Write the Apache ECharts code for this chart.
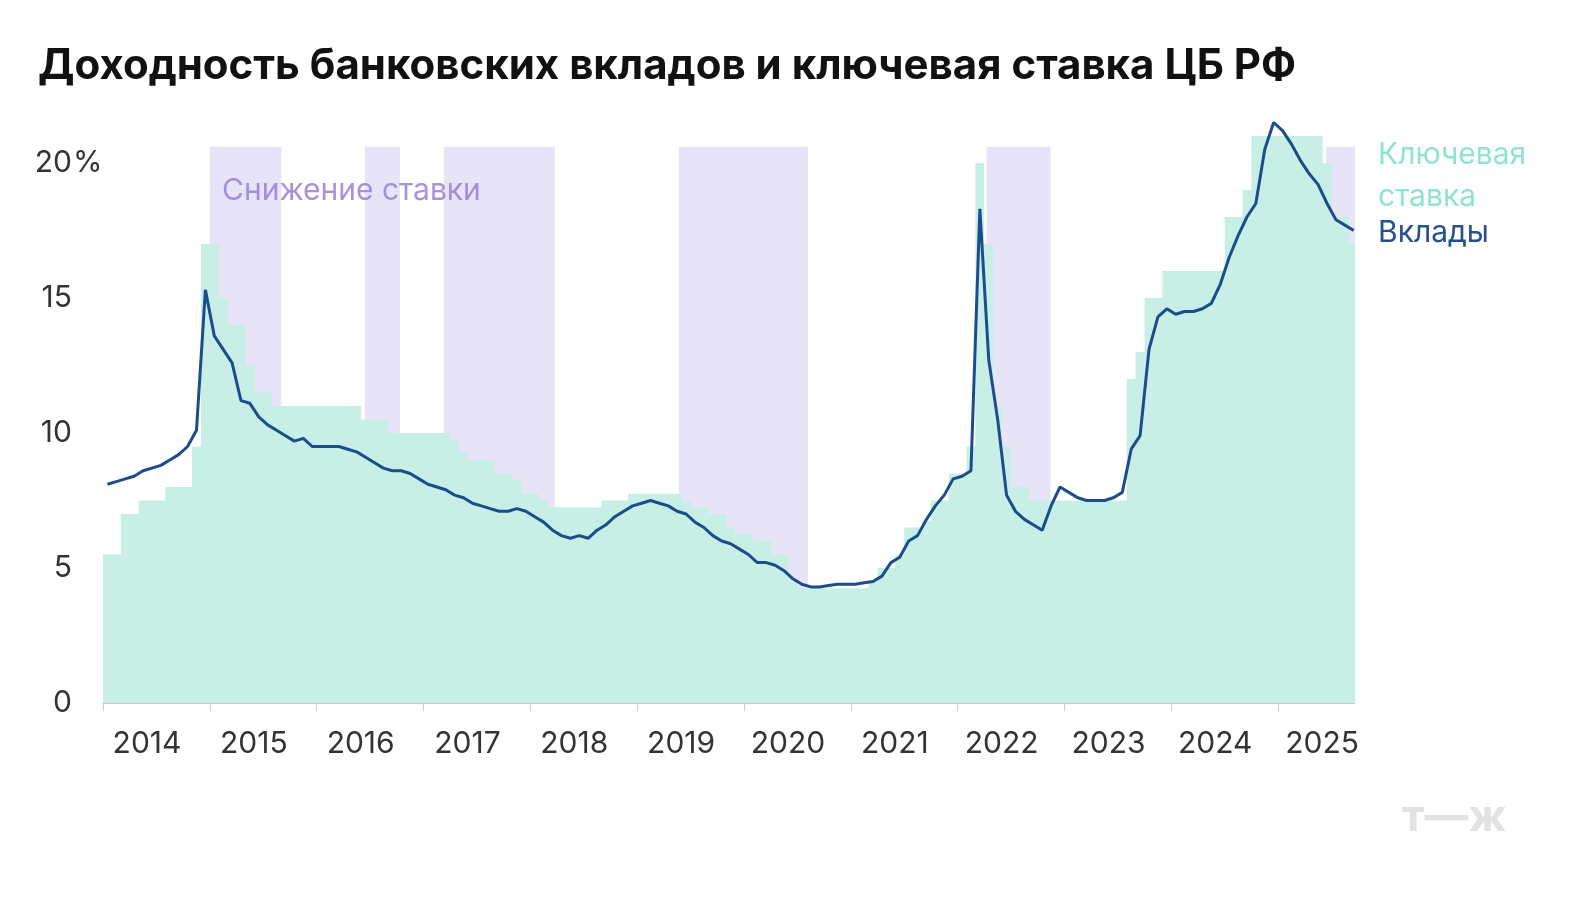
<!DOCTYPE html>
<html><head><meta charset="utf-8">
<script src="https://cdn.jsdelivr.net/npm/echarts@6/dist/echarts.min.js"></script>
<style>html,body{margin:0;background:#fff}#c{width:1594px;height:904px}</style>
</head><body><div id="c"></div>
<script>
const startYear = 2014;
const keyRate = [
5.5,5.5,7,7,7.5,7.5,7.5,8,8,8,9.5,17,
17,15,14,14,12.5,11.5,11.5,11,11,11,11,11,
11,11,11,11,11,10.5,10.5,10.5,10,10,10,10,
10,10,10,9.75,9.25,9,9,9,8.5,8.5,8.25,7.75,
7.75,7.5,7.25,7.25,7.25,7.25,7.25,7.25,7.5,7.5,7.5,7.75,
7.75,7.75,7.75,7.75,7.75,7.5,7.25,7.25,7,7,6.5,6.25,
6.25,6,6,5.5,5.5,4.5,4.25,4.25,4.25,4.25,4.25,4.25,
4.25,4.25,4.5,5,5,5.5,6.5,6.5,6.75,7.5,7.5,8.5,
8.5,9.5,20,17,11,9.5,8,8,7.5,7.5,7.5,7.5,
7.5,7.5,7.5,7.5,7.5,7.5,7.5,12,13,15,15,16,
16,16,16,16,16,16,18,18,19,21,21,21,
21,21,21,21,21,20,18,18,17];
const deposits = [
8.1,8.2,8.3,8.4,8.6,8.7,8.8,9.0,9.2,9.5,10.1,15.3,
13.6,13.1,12.6,11.2,11.1,10.6,10.3,10.1,9.9,9.7,9.8,9.5,
9.5,9.5,9.5,9.4,9.3,9.1,8.9,8.7,8.6,8.6,8.5,8.3,
8.1,8.0,7.9,7.7,7.6,7.4,7.3,7.2,7.1,7.1,7.2,7.1,
6.9,6.7,6.4,6.2,6.1,6.2,6.1,6.4,6.6,6.9,7.1,7.3,
7.4,7.5,7.4,7.3,7.1,7.0,6.7,6.5,6.2,6.0,5.9,5.7,
5.5,5.2,5.2,5.1,4.9,4.6,4.4,4.3,4.3,4.35,4.4,4.4,
4.4,4.45,4.5,4.7,5.2,5.4,6.0,6.2,6.8,7.3,7.7,8.3,
8.4,8.6,18.3,12.7,10.5,7.7,7.1,6.8,6.6,6.4,7.3,8.0,
7.8,7.6,7.5,7.5,7.5,7.6,7.8,9.4,9.9,13.1,14.3,14.6,
14.4,14.5,14.5,14.6,14.8,15.5,16.5,17.3,18.0,18.5,20.5,21.5,
21.2,20.7,20.1,19.6,19.2,18.5,17.9,17.7,17.5];
const cutPeriods = [[2015.0,2015.67],[2016.45,2016.78],[2017.19,2018.23],[2019.39,2020.6],[2022.27,2022.87],[2025.45,2025.72]];
const yTicks = [0,5,10,15,20];

const t = i => startYear + i/12;
const keyData = keyRate.map((v,i)=>[t(i),v]);
keyData.push([t(keyRate.length),keyRate[keyRate.length-1]]);
const depData = deposits.map((v,i)=>[t(i)+0.5/12,v]);
const xMax = 2025.72;

const chart = echarts.init(document.getElementById('c'));
chart.setOption({
  backgroundColor:'#fff',
  animation:false,
  title:{text:'Доходность банковских вкладов и ключевая ставка ЦБ РФ',left:33,top:40,
    textStyle:{fontFamily:'Inter',fontWeight:'bold',fontSize:42,color:'#111'}},
  grid:{left:103,right:239,top:109,bottom:201},
  xAxis:{type:'value',min:2014,max:xMax,interval:1,
     axisLine:{lineStyle:{color:'#ccc'}},axisTick:{show:true,length:8,lineStyle:{color:'#ccc'}},
     splitLine:{show:false},
     axisLabel:{showMaxLabel:false,margin:26,fontFamily:'Inter',fontSize:30,color:'#333',
       padding:[0,0,0,88],formatter:v=>v>2025.5?'':String(v)}},
  yAxis:{type:'value',min:0,max:22,interval:5,
    axisLabel:{fontFamily:'Inter',fontSize:30,color:'#333',margin:31,
      formatter:v=>yTicks.includes(v)?String(v):''},
    axisLine:{show:false},axisTick:{show:false},splitLine:{show:false}},
  graphic:[
    {type:'text',x:73,y:148,style:{text:'%',font:'30px Inter',fill:'#333'}},
    {type:'text',x:222,y:176,style:{text:'Снижение ставки',font:'30px Inter',fill:'#a593dd'}},
    {type:'text',x:1378,y:134,style:{text:'Ключевая\nставка',font:'30px Inter',fill:'#8fe3d2',lineHeight:42}},
    {type:'text',x:1378,y:218,style:{text:'Вклады',font:'30px Inter',fill:'#25508f'}},
    {type:'text',x:1402,y:796,style:{text:'т—ж',font:'bold 44px Inter',fill:'#e2e2e2'}}
  ],
  series:[
    {type:'line',step:'end',data:keyData,symbol:'none',z:1,
     lineStyle:{width:0},areaStyle:{color:'#c7efe5',opacity:1}},
    {type:'line',data:[],z:3,markArea:{silent:true,itemStyle:{color:'rgba(150,130,225,0.22)'},
      data:cutPeriods.map(p=>[{xAxis:p[0],yAxis:0},{xAxis:p[1],yAxis:20.6}])}},
    {type:'line',data:depData,symbol:'none',z:5,
     lineStyle:{color:'#1d4c8c',width:3}}
  ]
});
</script></body></html>
